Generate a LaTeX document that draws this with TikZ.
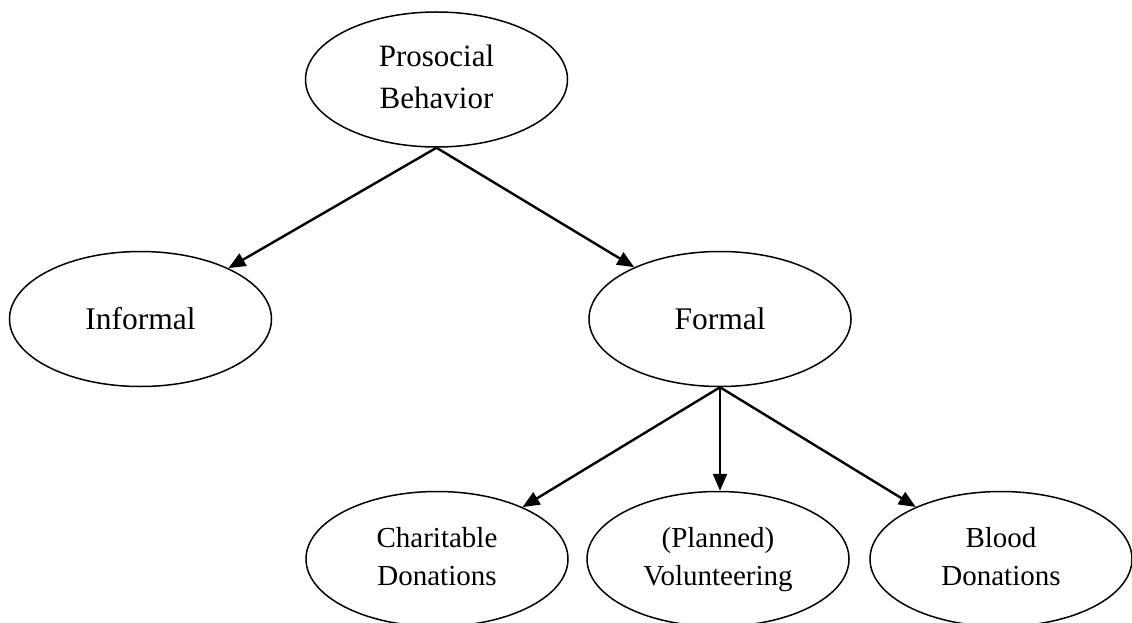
\documentclass[tikz,border=0pt]{standalone}
\usepackage{fontspec}
\setmainfont{Liberation Serif}
\usetikzlibrary{shapes.geometric,arrows.meta}
\begin{document}
\begin{tikzpicture}[x=1pt,y=-1pt,
  oval/.style={draw=black,line width=1.5pt,ellipse,inner sep=0pt,
    minimum width=262pt,minimum height=135pt,align=center},
  bigtext/.style={font=\fontsize{31}{42}\selectfont},
  midtext/.style={font=\fontsize{31.5}{38}\selectfont},
  smalltext/.style={font=\fontsize{29}{38}\selectfont},
  link/.style={line width=2.4pt,-{Triangle[length=17pt,width=14pt]}}]
  \useasboundingbox (0,0) rectangle (1132,623);
  \clip (0,0) rectangle (1132,623);
  % tree of behaviour types
  \node[oval,bigtext] (pro) at (436.5,79.5) {\strut Prosocial\\Behavior\strut};
  \node[oval,midtext] (inf) at (140.5,319) {Informal};
  \node[oval,midtext] (for) at (720,319) {Formal};
  \node[oval,smalltext] (cha) at (437,559) {\strut Charitable\\Donations\strut};
  \node[oval,smalltext] (vol) at (718,559) {\strut (Planned)\\Volunteering\strut};
  \node[oval,smalltext] (blo) at (1001,559) {\strut Blood\\Donations\strut};
  % connectors
  \draw[link] (pro.south) -- (inf);
  \draw[link] (pro.south) -- (for);
  \draw[link] (for.south) -- (cha);
  \draw[link] (for.south) -- (vol.north -| for.south);
  \draw[link] (for.south) -- (blo);
\end{tikzpicture}
\end{document}
